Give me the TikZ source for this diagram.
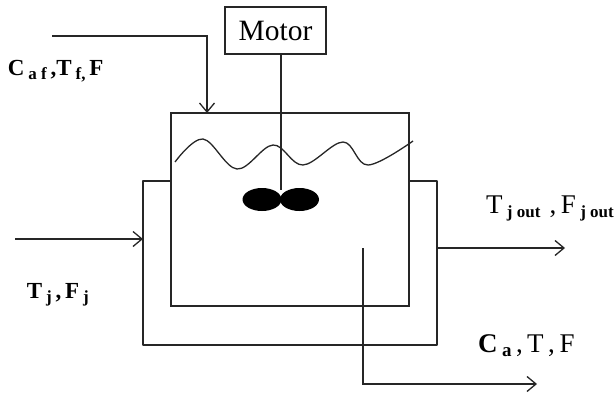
\documentclass[tikz,border=0pt]{standalone}
\usepackage{fontspec}
\setmainfont{Liberation Serif}
\usetikzlibrary{arrows.meta,calc,shapes.geometric}
\newcommand{\fs}[1]{\fontsize{#1}{#1}\selectfont}
\newcommand{\subb}[2][17]{{\fs{#1}\bfseries\raisebox{-4pt}{#2}}}
\tikzset{
  line/.style={draw=black!85,line width=1.3pt},
  flow/.style={line,-{Straight Barb[length=9pt,width=15pt,line width=1.3pt]}},
  lab/.style={anchor=base west,inner sep=0pt,outer sep=0pt},
  box/.style={draw=black!85,line width=1.3pt,inner sep=0pt,outer sep=0pt,minimum width=#1},
  blade/.style={ellipse,fill=black,inner sep=0pt,minimum width=39pt,minimum height=23pt}
}
\begin{document}
\begin{tikzpicture}[x=1pt,y=-1pt]
\useasboundingbox (0,0) rectangle (616,396);
% vessel and motor
\node[box=238pt,minimum height=193pt] (vessel) at (290,209.5) {};
\node[box=101pt,minimum height=47pt,fill=white] (motor) at (275.5,30.5) {\fs{29.5}Motor};
% jacket
\coordinate (jl) at (vessel.west |- 0,181);
\coordinate (jr) at (vessel.east |- 0,181);
\coordinate (jtl) at (143,181);
\coordinate (jtr) at (437,181);
\coordinate (jbl) at (143,345);
\coordinate (jbr) at (437,345);
\draw[line,line join=round] (jl) -- (jtl) -- (jbl) -- (jbr) -- (jtr) -- (jr);
% impeller
\node[blade] (b1) at (262,199.5) {};
\node[blade] (b2) at (299.5,199.5) {};
\coordinate (shaftend) at (281,190);
\draw[line] (motor.south -| shaftend) -- (shaftend);
% liquid level
\draw[line] plot[smooth,tension=0.6] coordinates {(175,162) (203,139) (237,169) (273,145) (303,165) (343,142) (368,165) (413,141)};
% streams
\coordinate (feed0) at (52,36);
\coordinate (feed1) at (207,36);
\draw[flow] (feed0) -- (feed1) -- (feed1 |- vessel.north);
\coordinate (tj0) at (15,239);
\coordinate (tj1) at (143,239);
\draw[flow] (tj0) -- (tj1);
\coordinate (o0) at (437,248);
\coordinate (o1) at (565,248);
\draw[flow] (o0) -- (o1);
\coordinate (p0) at (363,248);
\coordinate (p1) at (363,384);
\coordinate (p2) at (537,384);
\draw[flow] (p0) -- (p1) -- (p2);
% labels
\node[lab] (l1) at (8,76) {\fs{23}\bfseries C\,\subb{a f}\,,T\,\subb{f,}\,F};
\node[lab] (l2) at (27,298) {\fs{23}\bfseries T\,\subb{j}\,,\,F\,\subb{j}};
\node[lab] (l3) at (486,213) {\fs{27}T\,\subb[17]{j out}\,\,,\,F\,\subb[17]{j out}};
\node[lab] (l4) at (478,352) {\fs{27}\textbf{C}\,\subb[19]{a}\,,\,T\,,\,F};
\end{tikzpicture}
\end{document}
